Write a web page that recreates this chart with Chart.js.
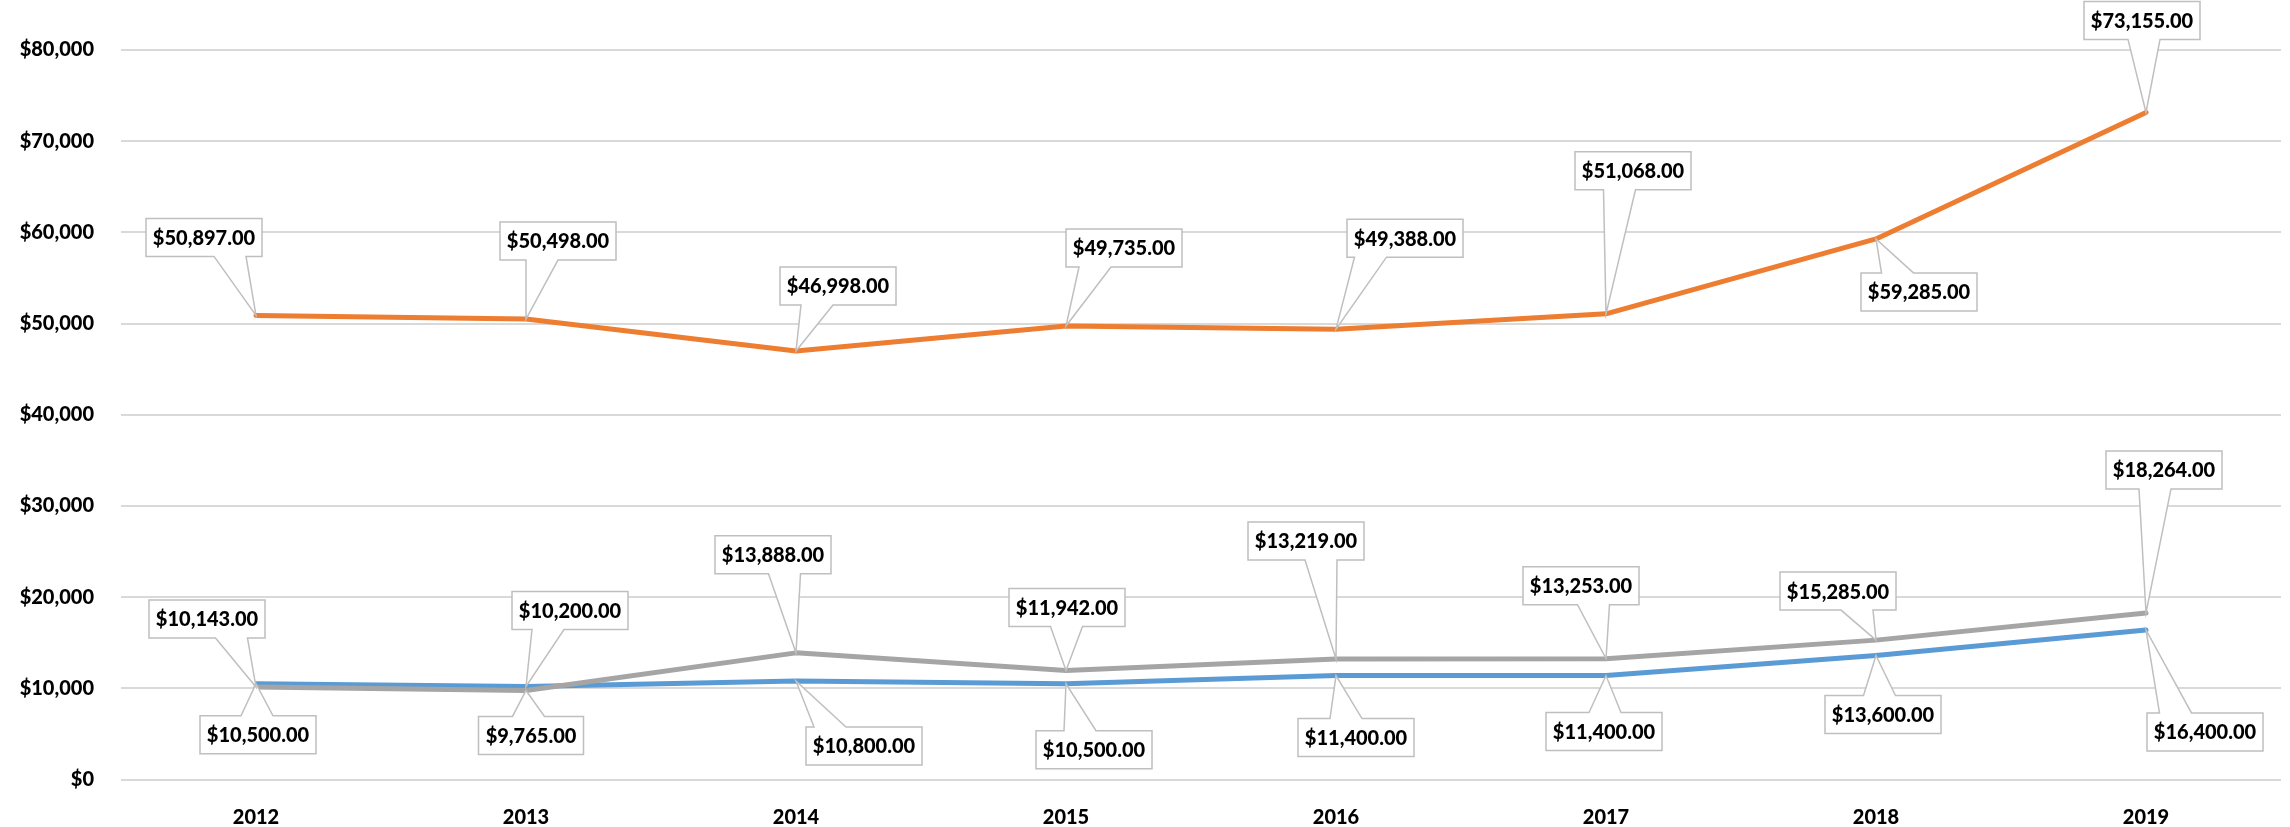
<!DOCTYPE html>
<html>
<head>
<meta charset="utf-8">
<script src="https://cdn.jsdelivr.net/npm/chart.js@4.4.1/dist/chart.umd.min.js"></script>
<style>
  html, body { margin: 0; padding: 0; background: #fff; }
</style>
</head>
<body>
<canvas id="chart" width="2290" height="827"></canvas>
<script>
"use strict";

// Chart data
const years = ['2012', '2013', '2014', '2015', '2016', '2017', '2018', '2019'];
const blueValues = [10500, 10200, 10800, 10500, 11400, 11400, 13600, 16400];
const orangeValues = [50897, 50498, 46998, 49735, 49388, 51068, 59285, 73155];
const grayValues = [10143, 9765, 13888, 11942, 13219, 13253, 15285, 18264];
const yMin = 0;
const yMax = 80000;
const yStep = 10000;

// Where each callout box sits, relative to its point (dx, dy of box centre)
const blueLabelOffsets = [[2, 51], [44, -76], [68, 65], [28, 66], [20, 62], [-2, 56], [7, 59], [59, 102]];
const orangeLabelOffsets = [[-52, -78], [32, -78], [42, -65], [58, -78], [69, -91], [27, -143], [43, 53], [-4, -92]];
const grayLabelOffsets = [[-49, -68], [5, 45], [-23, -98], [1, -63], [-30, -118], [-25, -73], [-38, -49], [18, -143]];

const FONT_FAMILY = 'Lato';
const FONT_WEIGHT = '900';
const chartElement = document.getElementById('chart');

/**
 * Formats a value as dollars, e.g. 10500 -> $10,500.00
 */
function money(value, decimals) {
  return '$' + value.toLocaleString('en-US', {
    minimumFractionDigits: decimals,
    maximumFractionDigits: decimals
  });
}

/**
 * Draws Excel-style callout boxes with a wedge pointing at each point.
 */
const calloutPlugin = {
  id: 'callouts',
  afterDatasetsDraw(chart) {
    const ctx = chart.ctx;
    ctx.save();
    ctx.font = FONT_WEIGHT + ' 20px ' + FONT_FAMILY;
    ctx.lineWidth = 1.5;
    ctx.strokeStyle = '#BFBFBF';
    ctx.textAlign = 'center';
    ctx.textBaseline = 'middle';

    chart.data.datasets.forEach((ds, i) => {
      const meta = chart.getDatasetMeta(i);
      meta.data.forEach((pt, j) => {
        const text = money(ds.data[j], 2);
        const w = Math.round(ctx.measureText(text).width + 14);
        const h = 38;
        const cx = pt.x + ds.labelOffsets[j][0];
        const cy = pt.y + ds.labelOffsets[j][1];
        const left = cx - w / 2;
        const right = cx + w / 2;
        const top = cy - h / 2;
        const bottom = cy + h / 2;

        let bc = pt.x + (cx - pt.x) / 2;
        bc = Math.min(Math.max(bc, left + 18), right - 18);
        const half = 16;

        ctx.beginPath();
        if (pt.y > bottom) {
          ctx.moveTo(left, top);
          ctx.lineTo(right, top);
          ctx.lineTo(right, bottom);
          ctx.lineTo(bc + half, bottom);
          ctx.lineTo(pt.x, pt.y);
          ctx.lineTo(bc - half, bottom);
          ctx.lineTo(left, bottom);
        } else {
          ctx.moveTo(left, top);
          ctx.lineTo(bc - half, top);
          ctx.lineTo(pt.x, pt.y);
          ctx.lineTo(bc + half, top);
          ctx.lineTo(right, top);
          ctx.lineTo(right, bottom);
          ctx.lineTo(left, bottom);
        }
        ctx.closePath();
        ctx.fillStyle = '#FFFFFF';
        ctx.fill();
        ctx.stroke();

        ctx.fillStyle = '#000000';
        ctx.fillText(text, cx, cy + 1);
      });
    });
    ctx.restore();
  }
};

function drawChart() {
  const tickFont = { family: FONT_FAMILY, size: 20, weight: FONT_WEIGHT };

  new Chart(chartElement, {
    type: 'line',
    data: {
      labels: years,
      datasets: [{
        label: 'Blue',
        data: blueValues,
        borderColor: '#5B9BD5',
        labelOffsets: blueLabelOffsets,
        order: 2
      }, {
        label: 'Orange',
        data: orangeValues,
        borderColor: '#ED7D31',
        labelOffsets: orangeLabelOffsets,
        order: 1
      }, {
        label: 'Gray',
        data: grayValues,
        borderColor: '#A5A5A5',
        labelOffsets: grayLabelOffsets,
        order: 0
      }]
    },
    options: {
      responsive: false,
      animation: false,
      devicePixelRatio: 1,
      layout: { padding: { top: 50, right: 9, left: 0, bottom: 0 } },
      elements: {
        line: { borderWidth: 5, tension: 0, borderJoinStyle: 'round', borderCapStyle: 'round', fill: false },
        point: { radius: 0, hoverRadius: 0 }
      },
      plugins: {
        legend: { display: false },
        tooltip: { enabled: false }
      },
      scales: {
        x: {
          offset: true,
          grid: { display: false },
          border: { display: false },
          ticks: { font: tickFont, color: '#000000', padding: 18, maxRotation: 0 },
          afterFit(scale) { scale.height = 47.5; }
        },
        y: {
          min: yMin,
          max: yMax,
          grid: { color: '#D9D9D9', lineWidth: 2, drawTicks: false },
          border: { display: false },
          ticks: {
            stepSize: yStep,
            padding: 27,
            font: tickFont,
            color: '#000000',
            callback: (value) => money(value, 0)
          },
          afterFit(scale) { scale.width = 121; }
        }
      }
    },
    plugins: [calloutPlugin]
  });
}

// Make sure the local font is ready before the canvas uses it
document.fonts.load(FONT_WEIGHT + ' 20px ' + FONT_FAMILY).then(drawChart, drawChart);
</script>
</body>
</html>
